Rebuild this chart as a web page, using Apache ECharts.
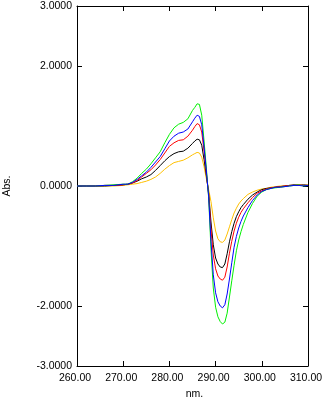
<!DOCTYPE html>
<html>
<head>
<meta charset="utf-8">
<script src="https://cdn.jsdelivr.net/npm/echarts@6/dist/echarts.min.js"></script>
<style>html,body{margin:0;padding:0;background:#fff}#c{width:322px;height:397px}</style>
</head>
<body>
<div id="c"></div>
<script>
const wavelengths = [260,262,264,266,268,270,271,272,273,274,275,276,277,278,279,280,281,282,283,284,285,285.5,286,286.5,287,287.5,288,288.5,289,289.5,290,290.5,291,291.5,292,292.5,293,293.5,294,294.5,295,295.5,296,297,298,299,300,301,302,303,304,305,306,307,308,309,310];
const greenVals = [0,0,0,0.01,0.02,0.03,0.03,0.07,0.13,0.21,0.28,0.37,0.47,0.57,0.72,0.86,0.97,1.03,1.06,1.12,1.26,1.31,1.37,1.36,1.18,0.75,0.30,-0.20,-1.05,-1.70,-2.02,-2.18,-2.26,-2.30,-2.27,-2.12,-1.85,-1.58,-1.32,-1.08,-0.90,-0.76,-0.64,-0.44,-0.29,-0.17,-0.10,-0.06,-0.04,-0.03,-0.02,-0.01,0,0.01,0.02,0,0.01];
const blueVals = [0,0,0,0.01,0.01,0.03,0.03,0.06,0.11,0.17,0.23,0.31,0.40,0.49,0.62,0.75,0.83,0.88,0.90,0.95,1.07,1.13,1.18,1.16,1.02,0.65,0.25,-0.18,-0.92,-1.48,-1.78,-1.93,-2.00,-2.03,-1.98,-1.80,-1.55,-1.28,-1.02,-0.84,-0.70,-0.59,-0.50,-0.36,-0.24,-0.15,-0.09,-0.06,-0.04,-0.02,-0.02,-0.01,0,0.01,0.01,0,0.01];
const redVals = [0,0,0,0.01,0.01,0.02,0.03,0.05,0.09,0.15,0.21,0.27,0.35,0.44,0.55,0.66,0.72,0.76,0.77,0.83,0.93,0.99,1.04,1.02,0.90,0.58,0.22,-0.15,-0.72,-1.15,-1.38,-1.50,-1.55,-1.57,-1.52,-1.35,-1.12,-0.92,-0.75,-0.62,-0.52,-0.44,-0.38,-0.28,-0.19,-0.12,-0.08,-0.05,-0.03,-0.02,-0.01,0,0.01,0.01,0.02,0.01,0.01];
const blackVals = [0,0,0,0,0.01,0.02,0.03,0.05,0.08,0.12,0.15,0.19,0.26,0.34,0.42,0.49,0.54,0.57,0.58,0.63,0.71,0.75,0.78,0.77,0.68,0.44,0.17,-0.12,-0.60,-0.98,-1.20,-1.30,-1.35,-1.36,-1.30,-1.13,-0.93,-0.76,-0.62,-0.51,-0.43,-0.36,-0.31,-0.22,-0.15,-0.10,-0.06,-0.04,-0.03,-0.02,-0.01,0,0.01,0.02,0.01,0.02,0.01];
const orangeVals = [0,0,0,0,0,0.01,0.02,0.03,0.04,0.06,0.08,0.11,0.15,0.21,0.28,0.34,0.39,0.41,0.43,0.47,0.52,0.54,0.56,0.55,0.48,0.32,0.12,-0.06,-0.26,-0.53,-0.75,-0.88,-0.93,-0.94,-0.90,-0.80,-0.68,-0.56,-0.45,-0.37,-0.30,-0.25,-0.21,-0.14,-0.10,-0.07,-0.05,-0.04,-0.02,-0.01,0,0,0.01,0.01,0.02,0.01,0.02];
const yTickValues = [-3,-2,0,2,3];
const seriesNames = ['orange','black','red','green','blue'];
const seriesColors = ['#ffc000','#000000','#ff0000','#00f000','#0000ff'];
const seriesData = [orangeVals, blackVals, redVals, greenVals, blueVals];

const chart = echarts.init(document.getElementById('c'), null, {renderer:'canvas'});
const font = {fontFamily:'Liberation Sans, Arial, sans-serif', fontSize:10.5, color:'#000'};
const lineS = {show:true, onZero:false, lineStyle:{color:'#000', width:1}};
chart.setOption({
  animation:false,
  grid:{left:77, right:14, top:6, bottom:31, containLabel:false, outerBoundsMode:'none'},
  xAxis:[{
    type:'value', min:260, max:310, interval:10, position:'bottom',
    name:'nm.', nameLocation:'middle', nameGap:20,
    nameTextStyle:Object.assign({padding:[0,0,0,4]}, font),
    axisLine:lineS, axisTick:{show:true, inside:true, length:5, lineStyle:{color:'#000'}},
    axisLabel:Object.assign({margin:7, padding:[0,4,0,0], formatter:v=>v.toFixed(2)}, font),
    splitLine:{show:false}
  },{
    type:'value', min:260, max:310, interval:10, position:'top',
    axisLine:lineS, axisTick:{show:true, inside:true, length:5, lineStyle:{color:'#000'}},
    axisLabel:{show:false}, splitLine:{show:false}
  }],
  yAxis:[{
    type:'value', min:-3, max:3, interval:1, position:'left',
    name:'Abs.', nameLocation:'middle', nameGap:64, nameRotate:90,
    nameTextStyle:Object.assign({}, font),
    axisLine:lineS,
    axisTick:{show:true, inside:true, length:5, lineStyle:{color:'#000'}, customValues:yTickValues},
    axisLabel:Object.assign({margin:5, customValues:yTickValues, formatter:v=>v.toFixed(4)}, font),
    splitLine:{show:false}
  },{
    type:'value', min:-3, max:3, interval:1, position:'right',
    axisLine:lineS,
    axisTick:{show:true, inside:true, length:5, lineStyle:{color:'#000'}, customValues:yTickValues},
    axisLabel:{show:false}, splitLine:{show:false}
  }],
  series: seriesData.map((d,i)=>({
    name:seriesNames[i], type:'line', xAxisIndex:0, yAxisIndex:0,
    data: wavelengths.map((w,j)=>[w,d[j]]),
    showSymbol:false, symbol:'none', smooth:false,
    lineStyle:{color:seriesColors[i], width:1}, itemStyle:{color:seriesColors[i]}
  }))
});
</script>
</body>
</html>
